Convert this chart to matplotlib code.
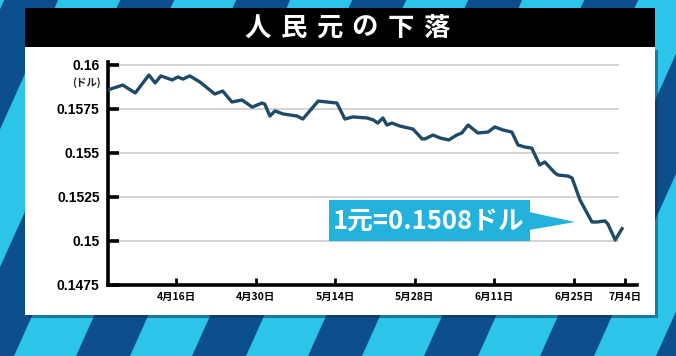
import matplotlib
matplotlib.use("Agg")
import matplotlib.pyplot as plt
from matplotlib.patches import Polygon, Rectangle
import numpy as np

# ---- data (day offset from 4/4, CNY->USD rate) ----
day_offset = [0, 0.5, 2.6, 4.8, 7.2, 8.3, 9.3, 11.3, 12.3, 13.2, 14.4, 16.2, 18.8, 20.2,
              21.8, 23.6, 25.4, 27.1, 27.6, 28.5, 29.4, 30.8, 33.3, 34.3, 37.0, 40.3,
              41.7, 43.1, 45.6, 46.7, 47.5, 48.4, 49.1, 50.0, 51.4, 53.7, 55.3, 55.8,
              57.2, 58.5, 60.0, 61.4, 62.3, 63.4, 65.1, 66.9, 68.1, 69.5, 71.1, 72.2,
              73.4, 74.6, 76.0, 76.9, 78.7, 79.2, 81.0, 81.7, 83.1, 85.2, 86.1, 87.5,
              88.0, 89.3, 90.5]
rate = [0.15858, 0.15864, 0.15886, 0.15841, 0.15943, 0.15898, 0.15938, 0.15915, 0.15932,
        0.15920, 0.15938, 0.15903, 0.15835, 0.15852, 0.15790, 0.15801, 0.15761, 0.15784,
        0.15778, 0.15710, 0.15739, 0.15722, 0.15710, 0.15693, 0.15795, 0.15784, 0.15693,
        0.15705, 0.15699, 0.15688, 0.15670, 0.15699, 0.15659, 0.15670, 0.15653, 0.15636,
        0.15580, 0.15580, 0.15602, 0.15585, 0.15574, 0.15602, 0.15614, 0.15659, 0.15614,
        0.15619, 0.15648, 0.15631, 0.15619, 0.15545, 0.15534, 0.15528, 0.15432, 0.15449,
        0.15386, 0.15375, 0.15369, 0.15358, 0.15233, 0.15108, 0.15108, 0.15114, 0.15097,
        0.15006, 0.15070]
x_tick_days = [12, 26, 40, 54, 68, 82, 91]
x_tick_labels = ["4月16日", "4月30日", "5月14日", "5月28日", "6月11日", "6月25日", "7月4日"]
y_ticks = [0.1475, 0.15, 0.1525, 0.155, 0.1575, 0.16]
y_tick_labels = ["0.1475", "0.15", "0.1525", "0.155", "0.1575", "0.16"]
title = "人民元の下落"
unit = "(ドル)"
callout = "1元=0.1508ドル"

W, H = 676, 356
fig = plt.figure(figsize=(W / 100, H / 100), dpi=100)

# ---- background (pixel coords) ----
bg = fig.add_axes([0, 0, 1, 1])
bg.set_xlim(0, W)
bg.set_ylim(H, 0)
bg.axis("off")
bg.add_patch(Rectangle((0, 0), W, H, color="#0d4f8c", zorder=0))
period, lw_band, slant = 116, 62, 0.45
for k in range(-4, 10):
    x0 = k * period + 14
    poly = [(x0, H), (x0 + lw_band, H), (x0 + lw_band + slant * H, 0), (x0 + slant * H, 0)]
    bg.add_patch(Polygon(poly, closed=True, color="#2cc4e8", zorder=1, lw=0))
# white panel + shadow
bg.add_patch(Rectangle((28, 50), 630, 268, color="#0a3358", alpha=0.5, zorder=2, lw=0))
bg.add_patch(Rectangle((25, 47), 630, 268, color="white", zorder=3, lw=0))
bg.add_patch(Rectangle((25, 8), 630, 39, color="black", zorder=3, lw=0))
cx0, pitch = 258, 35.6
for i, ch in enumerate(title):
    bg.text(cx0 + i * pitch, 28, ch, color="white", fontsize=19, fontweight="bold",
            family=["Noto Sans CJK JP", "DejaVu Sans"], ha="center", va="center", zorder=4)
bg.text(86, 83, unit, fontsize=7.5, fontweight="bold", ha="center", va="center",
        family=["Noto Sans CJK JP", "DejaVu Sans"], color="#222222", zorder=4)

# ---- main chart ----
left, right, top, bottom = 108, 637, 62, 285
ax = fig.add_axes([left / W, (H - bottom) / H, (right - left) / W, (bottom - top) / H])
ax.patch.set_alpha(0)
ymin = 0.1475
ymax = 0.16 + 3 * 0.0025 / 44
xmax = (right - left) / 5.68
ax.set_xlim(0, xmax)
ax.set_ylim(ymin, ymax)
for yv in y_ticks[1:]:
    ax.hlines(yv, 0, 90, color="#d2d2d2", lw=1.4, zorder=1)
ax.plot(day_offset, rate, color="#1f4a68", lw=2.4, solid_joinstyle="round", zorder=3)

for s in ["top", "right"]:
    ax.spines[s].set_visible(False)
for s in ["left", "bottom"]:
    ax.spines[s].set_linewidth(2.6)
    ax.spines[s].set_color("black")
ax.set_yticks(y_ticks)
ax.set_yticklabels(y_tick_labels, fontsize=10, fontweight="bold", family="Liberation Sans")
ax.set_xticks(x_tick_days)
ax.set_xticklabels(x_tick_labels, fontsize=7.5, fontweight="bold",
                   family=["Noto Sans CJK JP", "DejaVu Sans"])
ax.tick_params(axis="y", direction="in", length=8, width=2.6, pad=6)
ax.tick_params(axis="x", direction="in", length=5, width=2, pad=5)

# ---- callout (pixel coords overlay) ----
ov = fig.add_axes([0, 0, 1, 1], zorder=5)
ov.set_xlim(0, W)
ov.set_ylim(H, 0)
ov.axis("off")
box_col = "#22b2dc"
ov.add_patch(Rectangle((329, 200), 201, 41, color=box_col, lw=0))
ov.add_patch(Polygon([(529, 212), (575, 222), (529, 230)], closed=True, color=box_col, lw=0))
ov.text(429, 221, callout, color="white", fontsize=18.5, fontweight="bold",
        family=["Noto Sans CJK JP", "DejaVu Sans"], ha="center", va="center")

fig.savefig("out.png", dpi=100)
